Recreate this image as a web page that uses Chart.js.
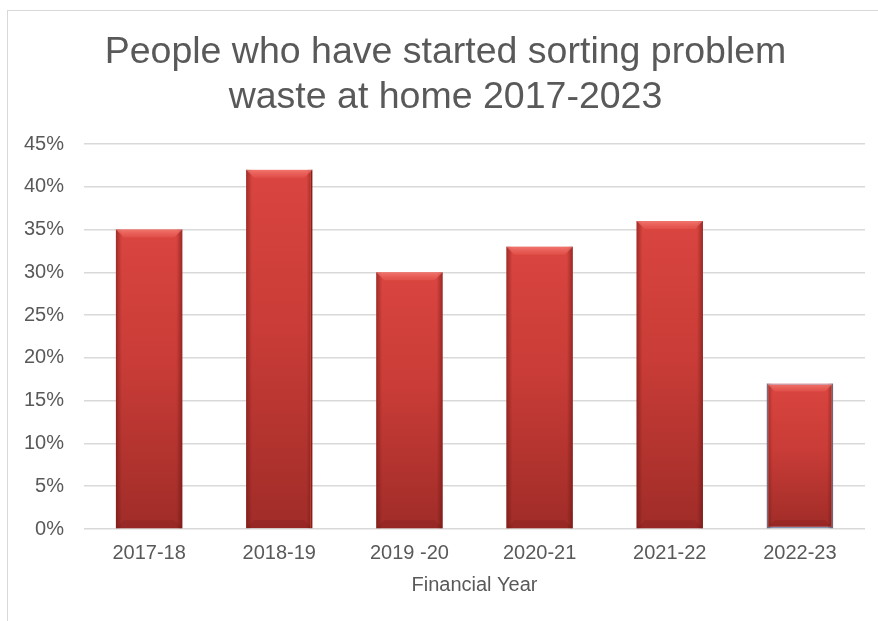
<!DOCTYPE html>
<html>
<head>
<meta charset="utf-8">
<script src="https://cdn.jsdelivr.net/npm/chart.js@4"></script>
<style>
  html, body { margin: 0; padding: 0; background: #fff; overflow: hidden; }
  #wrap { position: relative; width: 878px; height: 621px; }
  #frame { position: absolute; left: 7px; top: 10px; width: 900px; height: 700px;
           border-left: 1px solid #d9d9d9; border-top: 1px solid #d9d9d9; }
  #chart { position: absolute; left: 0; top: 0; }
</style>
</head>
<body>
<div id="wrap">
  <div id="frame"></div>
  <canvas id="chart" width="878" height="621"></canvas>
</div>
<script>
const years = ['2017-18', '2018-19', '2019 -20', '2020-21', '2021-22', '2022-23'];
const sortingShare = [35, 42, 30, 33, 36, 17];
const yTicks = [0, 5, 10, 15, 20, 25, 30, 35, 40, 45];

const grey = '#595959';
const fontFamily = '"Liberation Sans", Arial, sans-serif';

// per-bar vertical shading, bright at the top and darker towards the base
function barFill(context) {
    const chart = context.chart;
    if (!chart.chartArea || context.raw === undefined) return '#c93a35';
    const yScale = chart.scales.y;
    const top = yScale.getPixelForValue(context.raw);
    const bottom = yScale.getPixelForValue(0);
    const g = chart.ctx.createLinearGradient(0, top, 0, bottom);
    g.addColorStop(0, '#da4540');
    g.addColorStop(0.45, '#c93c37');
    g.addColorStop(1, '#a02c28');
    return g;
}

// bevel: lighter top edge, darker sides
const bevel = {
    id: 'bevel',
    afterDatasetsDraw(chart) {
        const ctx = chart.ctx;
        chart.getDatasetMeta(0).data.forEach(bar => {
            const { x, y, base, width } = bar.getProps(['x', 'y', 'base', 'width'], true);
            const left = x - width / 2, right = x + width / 2;
            const h = base - y;
            ctx.save();

            const side = ctx.createLinearGradient(left, 0, right, 0);
            side.addColorStop(0, 'rgba(90,15,12,0.45)');
            side.addColorStop(0.09, 'rgba(90,15,12,0)');
            side.addColorStop(0.91, 'rgba(90,15,12,0)');
            side.addColorStop(1, 'rgba(90,15,12,0.5)');
            ctx.fillStyle = side;
            ctx.fillRect(left, y, width, h);

            const b = 8;
            const topGrad = ctx.createLinearGradient(0, y, 0, y + b);
            topGrad.addColorStop(0, 'rgba(255,150,140,0.6)');
            topGrad.addColorStop(1, 'rgba(255,120,110,0.2)');
            ctx.beginPath();
            ctx.moveTo(left, y);
            ctx.lineTo(right, y);
            ctx.lineTo(right - b, y + b);
            ctx.lineTo(left + b, y + b);
            ctx.closePath();
            ctx.fillStyle = topGrad;
            ctx.fill();

            ctx.fillStyle = 'rgba(80,10,10,0.12)';
            ctx.beginPath();
            ctx.moveTo(left, base);
            ctx.lineTo(right, base);
            ctx.lineTo(right - b, base - b);
            ctx.lineTo(left + b, base - b);
            ctx.closePath();
            ctx.fill();
            ctx.restore();
        });
    }
};

// nudge the title so it sits centred over the plot rather than the canvas
const titleShift = {
    id: 'titleShift',
    afterLayout(chart) {
        if (chart.titleBlock) {
            chart.titleBlock.left += 11;
            chart.titleBlock.right += 11;
        }
    }
};

new Chart(document.getElementById('chart').getContext('2d'), {
    type: 'bar',
    data: {
        labels: years,
        datasets: [{
            label: 'Started sorting problem waste',
            data: sortingShare,
            backgroundColor: barFill,
            borderColor: ['rgba(0,0,0,0)', '#c8200f', 'rgba(0,0,0,0)', 'rgba(0,0,0,0)', 'rgba(0,0,0,0)', '#8ea7c9'],
            borderWidth: [0, { right: 2, bottom: 0, top: 0, left: 0 }, 0, 0, 0, 1.5],
            borderSkipped: false,
            barPercentage: 0.51,
            categoryPercentage: 1
        }]
    },
    options: {
        responsive: false,
        animation: false,
        layout: { padding: { left: 4, right: 13, top: 30, bottom: 24 } },
        plugins: {
            legend: { display: false },
            tooltip: { enabled: false },
            title: {
                display: true,
                text: ['People who have started sorting problem', 'waste at home 2017-2023'],
                color: grey,
                font: { family: fontFamily, size: 37.5, weight: 'normal', lineHeight: 1.2 },
                padding: { top: 0, bottom: 24 }
            }
        },
        scales: {
            x: {
                grid: { display: false },
                border: { display: false },
                ticks: { color: grey, font: { family: fontFamily, size: 20 }, padding: 4 },
                title: {
                    display: true,
                    text: 'Financial Year',
                    color: grey,
                    font: { family: fontFamily, size: 20 },
                    padding: { top: 4, bottom: 0 }
                }
            },
            y: {
                min: 0,
                max: 45,
                afterBuildTicks: axis => { axis.ticks = yTicks.map(v => ({ value: v })); },
                grid: { color: '#d9d9d9', lineWidth: 1.5, drawTicks: false },
                border: { display: false },
                ticks: {
                    color: grey,
                    font: { family: fontFamily, size: 20 },
                    padding: 20,
                    callback: v => v + '%'
                }
            }
        }
    },
    plugins: [bevel, titleShift]
});
</script>
</body>
</html>
